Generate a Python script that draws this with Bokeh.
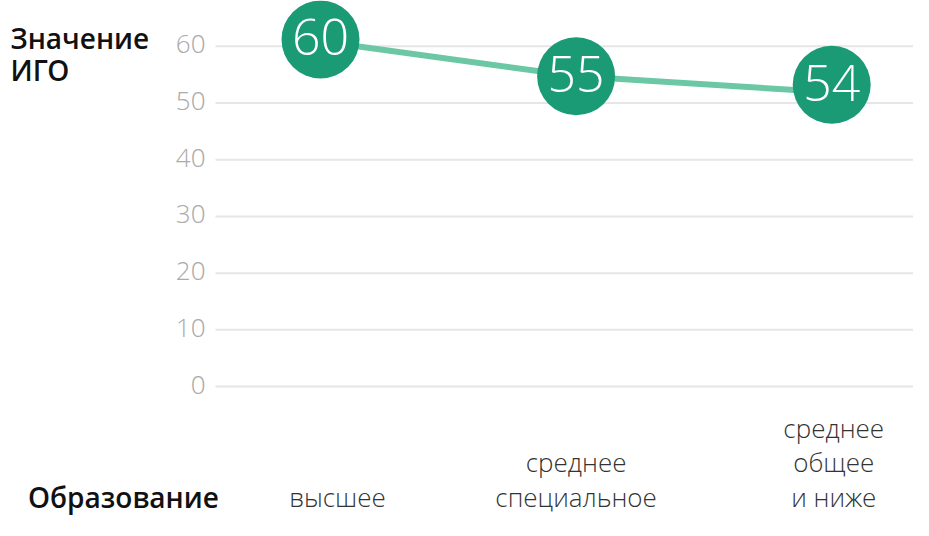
from bokeh.plotting import figure
from bokeh.models import ColumnDataSource
from bokeh.core.properties import value
from bokeh.embed import file_html
from bokeh.resources import INLINE

# ---- data ----
categories = ["высшее", "среднее\nспециальное", "среднее\nобщее\nи ниже"]
line_values = [60.9, 54.7, 51.9]
marker_values = [61.2, 54.7, 53.2]
value_labels = ["60", "55", "54"]
y_ticks = [0, 10, 20, 30, 40, 50, 60]
y_title = ["Значение", "ИГО"]
x_title = "Образование"

# ---- layout (frame covers the whole figure) ----
W, H = 913, 520
X0, X1 = -1.252, 2.320
Y0, Y1 = -23.61, 68.07


def dx(px):
    return X0 + px * (X1 - X0) / W


def dy(py):
    return Y1 - py * (Y1 - Y0) / H


LIGHT = "Open Sans Light"
BOLD = "Open Sans SemiBold"

p = figure(width=W, height=H, x_range=(X0, X1), y_range=(Y0, Y1),
           output_backend="svg", toolbar_location=None,
           x_axis_location=None, y_axis_location=None,
           min_border_left=0, min_border_right=0, min_border_top=0,
           min_border_bottom=0, outline_line_color=None,
           background_fill_color="white", border_fill_color="white")
p.xgrid.visible = False
p.ygrid.visible = False

# horizontal gridlines at the tick values
n = len(y_ticks)
p.segment(x0=[dx(215)] * n, y0=y_ticks, x1=[X1] * n, y1=y_ticks,
          line_color="#e6e6e6", line_width=2)

# tick labels
p.text([dx(205)] * n, y_ticks, text=[str(t) for t in y_ticks], y_offset=-2,
       text_color="#ababab", text_font=value(LIGHT), text_font_size="26px",
       text_align="right", text_baseline="middle")

xs = list(range(len(categories)))

p.line(xs, line_values, line_width=6, line_color="#6cc8a4", line_cap="round")
p.scatter(xs, marker_values, size=78, fill_color="#1b9a76", line_color=None)
p.text(xs, marker_values, text=value_labels, y_offset=-2, text_color="white",
       text_font=value(LIGHT), text_font_size="50px",
       text_align="center", text_baseline="middle")

# category labels, bottom-aligned
x_offsets = [17, 0, 2]
lx, ly, lt, loff, lxo = [], [], [], [], []
label_y = dy(496)
for i, cat in enumerate(categories):
    lines = cat.split("\n")
    for j, line in enumerate(reversed(lines)):
        lx.append(i)
        ly.append(label_y)
        lt.append(line)
        loff.append(-34.1 * j)
        lxo.append(x_offsets[i])
src = ColumnDataSource(dict(x=lx, y=ly, text=lt, yo=loff, xo=lxo))
p.text("x", "y", text="text", source=src, x_offset="xo", y_offset="yo",
       text_color="#333333", text_font=value(LIGHT), text_font_size="26px",
       text_align="center", text_baseline="middle")

# titles
p.text([dx(10)] * len(y_title), [dy(37 + 32.2 * k) for k in range(len(y_title))],
       text=y_title, text_color="#111111", text_font=value(BOLD),
       text_font_size="28px", text_align="left", text_baseline="middle")
p.text([dx(27.5)], [dy(496)], text=[x_title], text_color="#111111",
       text_font=value(BOLD), text_font_size="28px",
       text_align="left", text_baseline="middle")

open("out.html", "w").write(file_html(p, INLINE))
